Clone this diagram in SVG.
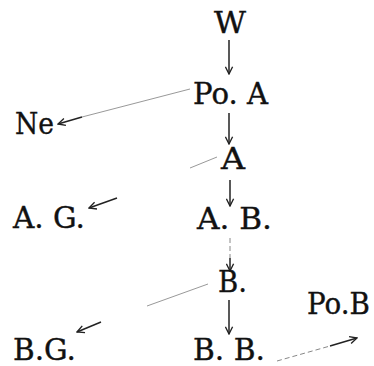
<svg xmlns="http://www.w3.org/2000/svg" width="374" height="366" viewBox="0 0 374 366">
<defs>
<style>
.t{font-family:'DejaVu Serif',serif;font-size:30px;fill:#111;stroke:#111;stroke-width:0.4;}
.a{stroke:#222;stroke-width:1.5;fill:none;}
.g{stroke:#999;stroke-width:1;fill:none;}
.d{stroke:#888;stroke-width:1;fill:none;stroke-dasharray:5 3;}
</style>
<marker id="ah" viewBox="0 0 10 10" refX="9" refY="5" markerWidth="9" markerHeight="9" orient="auto" markerUnits="userSpaceOnUse">
<path d="M1,1 L9,5 L1,9" fill="none" stroke="#222" stroke-width="1.5"/>
</marker>
</defs>
<rect width="374" height="366" fill="#fff"/>
<g id="connectors">
<line class="a" x1="229" y1="40" x2="229" y2="74" marker-end="url(#ah)"/>
<line class="a" x1="229" y1="113" x2="229" y2="144" marker-end="url(#ah)"/>
<line class="a" x1="230" y1="180" x2="230" y2="206" marker-end="url(#ah)"/>
<line class="d" x1="230" y1="238" x2="230" y2="258"/>
<line class="a" x1="230" y1="258" x2="230" y2="271" marker-end="url(#ah)"/>
<line class="a" x1="229" y1="300" x2="229" y2="334" marker-end="url(#ah)"/>
<line class="g" x1="190" y1="89" x2="82" y2="117"/>
<line class="a" x1="82" y1="117" x2="58" y2="124" marker-end="url(#ah)"/>
<line class="g" x1="190" y1="168" x2="217" y2="157"/>
<line class="a" x1="117" y1="198" x2="89" y2="208" marker-end="url(#ah)"/>
<line class="g" x1="147" y1="306" x2="208" y2="284"/>
<line class="a" x1="101" y1="322" x2="77" y2="332" marker-end="url(#ah)"/>
<line class="d" x1="277" y1="361" x2="330" y2="346"/>
<line class="a" x1="330" y1="346" x2="357" y2="338" marker-end="url(#ah)"/>
</g>
<g id="n-W"><text class="t" x="214" y="33" textLength="32" lengthAdjust="spacingAndGlyphs">W</text></g>
<g id="n-PoA"><text class="t" x="193" y="104" textLength="75" lengthAdjust="spacingAndGlyphs">Po. A</text></g>
<g id="n-Ne"><text class="t" x="15" y="134" textLength="39" lengthAdjust="spacingAndGlyphs">Ne</text></g>
<g id="n-A"><text class="t" x="221" y="169" textLength="24" lengthAdjust="spacingAndGlyphs">A</text></g>
<g id="n-AG"><text class="t" x="13" y="228" textLength="72" lengthAdjust="spacingAndGlyphs">A. G.</text></g>
<g id="n-AB"><text class="t" x="197" y="229" textLength="75" lengthAdjust="spacingAndGlyphs">A. B.</text></g>
<g id="n-B"><text class="t" x="218" y="292" textLength="29" lengthAdjust="spacingAndGlyphs">B.</text></g>
<g id="n-PoB"><text class="t" x="307" y="314" textLength="63" lengthAdjust="spacingAndGlyphs">Po.B</text></g>
<g id="n-BG"><text class="t" x="13" y="360" textLength="63" lengthAdjust="spacingAndGlyphs">B.G.</text></g>
<g id="n-BB"><text class="t" x="193" y="360" textLength="72" lengthAdjust="spacingAndGlyphs">B. B.</text></g>
</svg>
